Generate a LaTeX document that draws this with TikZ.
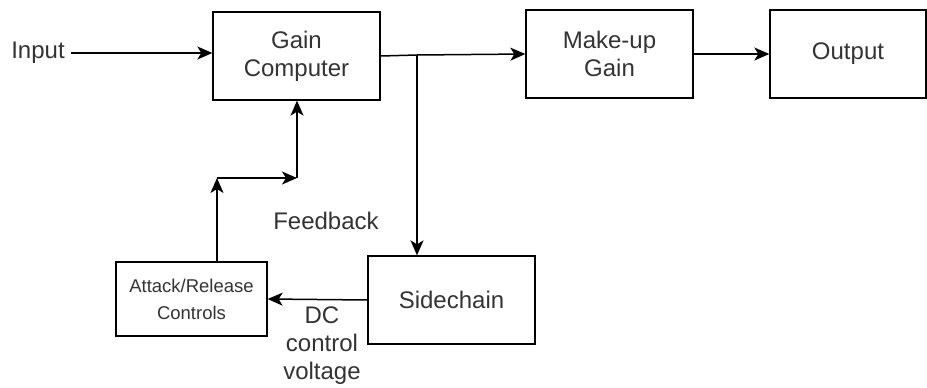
\documentclass[tikz,border=0pt]{standalone}
\usepackage{fontspec}
\setmainfont{Liberation Sans}
\usetikzlibrary{arrows.meta,positioning,calc}

\begin{document}
\begin{tikzpicture}[
  x=1pt, y=-1pt,
  every node/.style={font=\fontsize{24}{28}\selectfont, text=black!80},
  blk/.style={draw, line width=1.3pt, align=center, minimum width=167pt, minimum height=88pt, inner sep=0pt},
  ctl/.style={blk, font=\fontsize{18.5}{27}\selectfont, minimum width=151pt, minimum height=74pt},
  wire/.style={line width=1.5pt},
  arr/.style={wire, -{Stealth[length=15pt,width=13pt,inset=4pt]}}
]
\useasboundingbox (0,0) rectangle (927,388);
\node[blk] (gain) at (296.5,56) {Gain\\Computer};
\node[blk] (makeup) at (609.5,54) {Make-up\\Gain};
\node[blk, minimum width=156pt] (out) at (848,54) {Output};
\node[blk] (side) at (451.5,300) {Sidechain};
\node[ctl] (ar) at (191.5,299) {Attack/Release\\Controls};
\node[inner sep=6pt] (in) at (38,53) {Input};
\node (fbl) at (326,221) {Feedback};
\node[align=center] (dc) at (322,346) {DC\\control\\voltage};
% main path
\coordinate (jn) at (417,55);
\draw[arr] (in.east) -- (in.east -| gain.west);
\draw[wire] (gain.east) -- (jn);
\draw[arr] (jn) -- (makeup.west);
\draw[arr] (makeup.east) -- (out.west);
\draw[arr] (jn) -- (jn |- side.north);
\draw[arr] (side.west) -- (ar.east);
% feedback loop
\coordinate (fa) at (217,178);
\coordinate (fc) at (297,178);
\draw[arr] (fa |- ar.north) -- (fa);
\draw[arr] (fa) -- (fc);
\draw[arr] (fc) -- (fc |- gain.south);
\end{tikzpicture}
\end{document}
